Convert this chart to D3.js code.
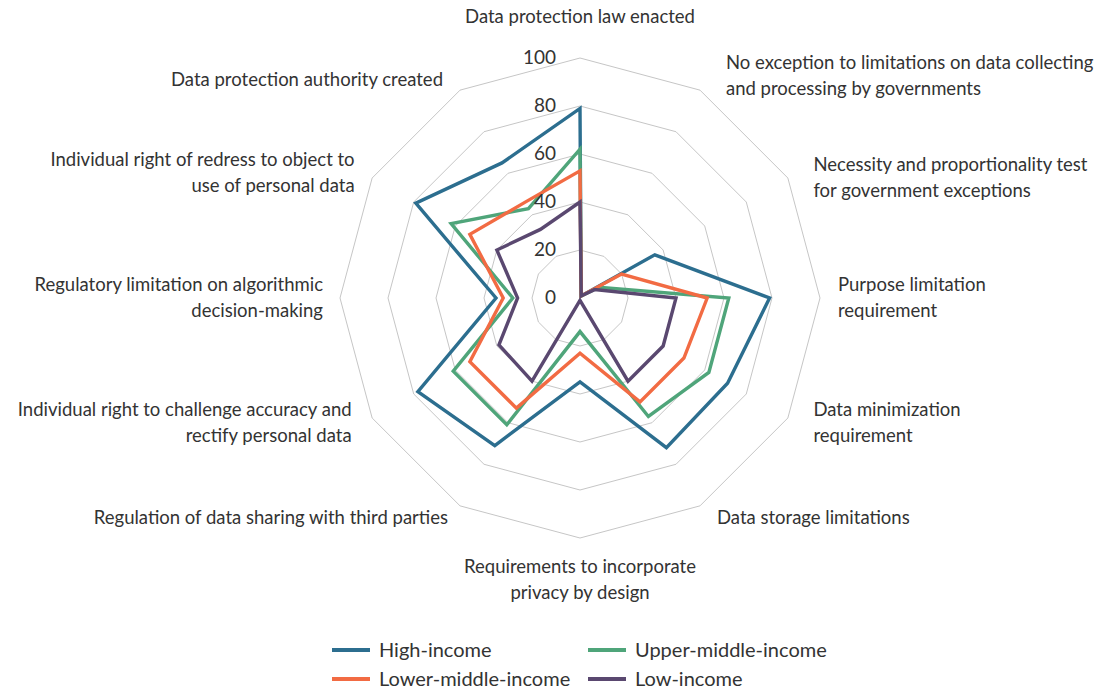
<!DOCTYPE html>
<html>
<head>
<meta charset="utf-8">
<script src="https://cdn.jsdelivr.net/npm/d3@7"></script>
<style>
  html, body { margin: 0; padding: 0; background: #fff; }
  svg { display: block; }
  text { font-family: Lato, "Noto Sans", sans-serif; fill: #333; }
</style>
</head>
<body>
<svg id="chart" width="1095" height="691"></svg>
<script>
// Radar axes, clockwise from the top
const categories = [
  ["Data protection law enacted"],
  ["No exception to limitations on data collecting", "and processing by governments"],
  ["Necessity and proportionality test", "for government exceptions"],
  ["Purpose limitation", "requirement"],
  ["Data minimization", "requirement"],
  ["Data storage limitations"],
  ["Requirements to incorporate", "privacy by design"],
  ["Regulation of data sharing with third parties"],
  ["Individual right to challenge accuracy and", "rectify personal data"],
  ["Regulatory limitation on algorithmic", "decision-making"],
  ["Individual right of redress to object to", "use of personal data"],
  ["Data protection authority created"]
];

// Scores (0-100) for each income group, in axis order
const highIncome        = [79, 1, 36, 79, 71, 72, 35, 71, 78, 35, 79, 65];
const upperMiddleIncome = [62, 1,  9, 62, 62, 57, 14, 61, 61, 28, 62, 43];
const lowerMiddleIncome = [53, 1, 20, 53, 50, 50, 23, 53, 53, 32, 53, 46];
const lowIncome         = [40, 1,  7, 40, 40, 40,  1, 40, 39, 26, 40, 33];

const seriesNames  = ["High-income", "Upper-middle-income", "Lower-middle-income", "Low-income"];
const seriesValues = [highIncome, upperMiddleIncome, lowerMiddleIncome, lowIncome];
const seriesColors = ["#2c6e8f", "#4fa57a", "#f26b43", "#5a4870"];

const tickValues = [0, 20, 40, 60, 80, 100];

// Layout
const cx = 580, cy = 298, R = 240;
const labelRadius = 258;
const lineHeight = 26;
// per-axis nudges of the category label blocks
const labelNudge = [[0,-23],[17,1],[10,9],[0,0],[10,-4],[8,-4],[0,24],[-3,-4],[-5,-4],[1,0],[-2,4],[-8,5]];

const svg = d3.select("#chart");
const n = categories.length;

const angle = d3.scaleLinear().domain([0, n]).range([0, 2 * Math.PI]);
const r = d3.scaleLinear().domain([0, 100]).range([0, R]);

const g = svg.append("g").attr("transform", `translate(${cx},${cy})`);

// Grid rings
const ring = d3.lineRadial()
  .angle((d, i) => angle(i))
  .radius(d => r(d))
  .curve(d3.curveLinearClosed);

g.append("g").selectAll("path")
  .data(tickValues.filter(v => v > 0))
  .join("path")
  .attr("d", v => ring(d3.range(n).map(() => v)))
  .attr("fill", "none")
  .attr("stroke", "#c6c6c6")
  .attr("stroke-width", 1);

// Series polygons
const radarLine = d3.lineRadial()
  .angle((d, i) => angle(i))
  .radius(d => r(d))
  .curve(d3.curveLinearClosed);

g.append("g").selectAll("path")
  .data(seriesValues)
  .join("path")
  .attr("d", d => radarLine(d))
  .attr("fill", "none")
  .attr("stroke", (d, i) => seriesColors[i])
  .attr("stroke-width", 3.4)
  .attr("stroke-linejoin", "miter")
  .attr("stroke-miterlimit", 10);

// Radial tick labels along the top axis
g.append("g").selectAll("text")
  .data(tickValues)
  .join("text")
  .attr("x", -24)
  .attr("y", v => -r(v) - 1)
  .attr("dy", "0.35em")
  .attr("text-anchor", "end")
  .style("font-size", "19px")
  .text(v => v);

// Category labels
g.append("g").selectAll("text")
  .data(categories)
  .join("text")
  .style("font-size", "18.5px")
  .attr("text-anchor", (d, i) => {
    const s = Math.sin(angle(i));
    return Math.abs(s) < 1e-6 ? "middle" : (s > 0 ? "start" : "end");
  })
  .each(function(lines, i) {
    const a = angle(i);
    const x = labelRadius * Math.sin(a) + labelNudge[i][0];
    const yc = -labelRadius * Math.cos(a) + labelNudge[i][1];
    const y0 = yc - (lines.length - 1) * lineHeight / 2;
    d3.select(this).selectAll("tspan")
      .data(lines)
      .join("tspan")
      .attr("x", x)
      .attr("y", (t, k) => y0 + k * lineHeight)
      .attr("dy", "0.35em")
      .text(t => t);
  });

// Legend: two columns, two rows
const legendCols = [332, 588];
const legendRows = [650, 679];
const legend = svg.append("g").selectAll("g")
  .data(seriesNames)
  .join("g")
  .attr("transform", (d, i) => `translate(${legendCols[i % 2]},${legendRows[Math.floor(i / 2)]})`);

legend.append("line")
  .attr("x1", 0).attr("x2", 38)
  .attr("y1", 0).attr("y2", 0)
  .attr("stroke", (d, i) => seriesColors[i])
  .attr("stroke-width", 4);

legend.append("text")
  .attr("x", 47)
  .attr("dy", "0.35em")
  .style("font-size", "20px")
  .text(d => d);
</script>
</body>
</html>
